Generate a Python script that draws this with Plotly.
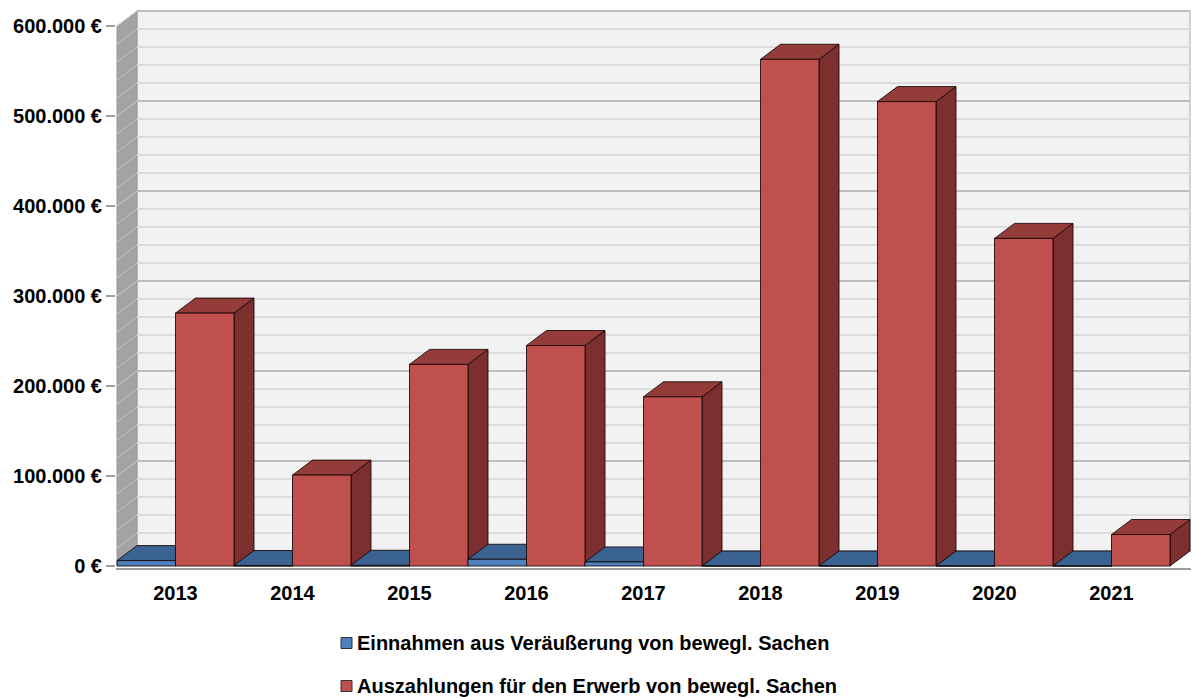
import plotly.graph_objects as go

# ---------------- data ----------------
years = ["2013", "2014", "2015", "2016", "2017", "2018", "2019", "2020", "2021"]
einnahmen = [6000, 500, 800, 7500, 4500, 0, 0, 0, 0]          # blue series
auszahlungen = [281000, 101000, 224000, 245000, 188000, 563000, 516000, 364000, 35000]  # red series
ytick_vals = [0, 100000, 200000, 300000, 400000, 500000, 600000]
ytick_text = ["0 €", "100.000 €", "200.000 €", "300.000 €", "400.000 €", "500.000 €", "600.000 €"]
series_names = ["Einnahmen aus Veräußerung von bewegl. Sachen",
                "Auszahlungen für den Erwerb von bewegl. Sachen"]

# ---------------- style ----------------
W, H = 1192, 698
ML, MR, MT, MB = 116, 1, 4, 130
PW, PH = W - ML - MR, H - MT - MB

DX = 20 / 117.0      # depth offset in category units
DY = 16700           # depth offset in value units
YMAX = 600000
MINOR = 20000
X_LEFT = -0.5
X_RIGHT = len(years) - 0.5

blue = dict(front="#4F81BD", top="#3B6391", side="#2C4C72")
red = dict(front="#C0504D", top="#943C3A", side="#7B302F")
edge = "rgba(20,5,5,0.85)"

fig = go.Figure()


def poly(xs, ys, fill, line_color=None, line_width=0):
    fig.add_trace(go.Scatter(
        x=xs + [xs[0]], y=ys + [ys[0]], mode="lines", fill="toself",
        fillcolor=fill,
        line=dict(color=line_color or fill, width=line_width),
        hoverinfo="skip", showlegend=False))


def seg(x0, y0, x1, y1, color, width):
    fig.add_trace(go.Scatter(x=[x0, x1], y=[y0, y1], mode="lines",
                             line=dict(color=color, width=width),
                             hoverinfo="skip", showlegend=False))


# back wall
poly([X_LEFT + DX, X_RIGHT + DX, X_RIGHT + DX, X_LEFT + DX],
     [DY, DY, YMAX + DY, YMAX + DY], "#F2F2F2", "#C4C4C4", 1.5)
# left side wall
poly([X_LEFT, X_LEFT + DX, X_LEFT + DX, X_LEFT],
     [0, DY, YMAX + DY, YMAX], "#A3A3A3", "#9A9A9A", 1)

# gridlines (back wall + side wall)
v = 0
while v <= YMAX:
    major = v % 100000 == 0
    seg(X_LEFT + DX, v + DY, X_RIGHT + DX, v + DY,
        "#BDBDBD" if major else "#DCDCDC", 2)
    seg(X_LEFT, v, X_LEFT + DX, v + DY,
        "#CFCFCF" if major else "#C4C4C4", 1)
    v += MINOR


def bar3d(x0, x1, val, col):
    poly([x1, x1 + DX, x1 + DX, x1], [0, DY, val + DY, val], col["side"], edge, 1)
    poly([x0, x1, x1 + DX, x0 + DX], [val, val, val + DY, val + DY], col["top"], edge, 1)
    poly([x0, x1, x1, x0], [0, 0, val, val], col["front"], edge, 1)


for i in range(len(years)):
    bar3d(i - 0.5, i, einnahmen[i], blue)
    bar3d(i, i + 0.5, auszahlungen[i], red)

font = dict(family="Liberation Sans, Arial, sans-serif", size=20, color="black", weight="bold")


def px_x(px):
    return (px - ML) / PW


def px_y(py):
    return (H - MB - py) / PH


# manual legend (key squares + texts)
legend_rows_y = [643, 686]
for name, col, ry in zip(series_names, [blue, red], legend_rows_y):
    fig.add_shape(type="rect", xref="paper", yref="paper",
                  x0=px_x(341), x1=px_x(352), y0=px_y(ry + 5.5), y1=px_y(ry - 5.5),
                  fillcolor=col["front"], line=dict(color="#333333", width=1))
    fig.add_annotation(text=name, xref="paper", yref="paper",
                       x=px_x(355), y=px_y(ry), xanchor="left", yanchor="middle",
                       showarrow=False, font=font)

fig.update_layout(
    width=W, height=H,
    margin=dict(l=ML, r=MR, t=MT, b=MB, autoexpand=False),
    paper_bgcolor="white", plot_bgcolor="white",
    font=font,
    showlegend=False,
    xaxis=dict(range=[X_LEFT - 1 / 117.0, X_LEFT - 1 / 117.0 + PW / 117.0],
               tickmode="array", tickvals=list(range(len(years))), ticktext=years,
               showgrid=False, zeroline=False, showline=True, linecolor="#9E9E9E",
               linewidth=1.5, ticks="", ticklabelstandoff=6, tickfont=font,
               automargin=False, fixedrange=True),
    yaxis=dict(range=[-2200, -2200 + PH / 0.0009], tickmode="array", tickvals=ytick_vals,
               ticktext=ytick_text, showgrid=False, zeroline=False, showline=False,
               ticks="outside", ticklen=9, tickcolor="#9E9E9E", tickwidth=1.5,
               tickfont=font, automargin=False, fixedrange=True),
)

fig.write_html(
    "out.html",
    config={"displayModeBar": False},
    post_script="document.body.style.margin='0';document.body.style.overflow='hidden';",
)
